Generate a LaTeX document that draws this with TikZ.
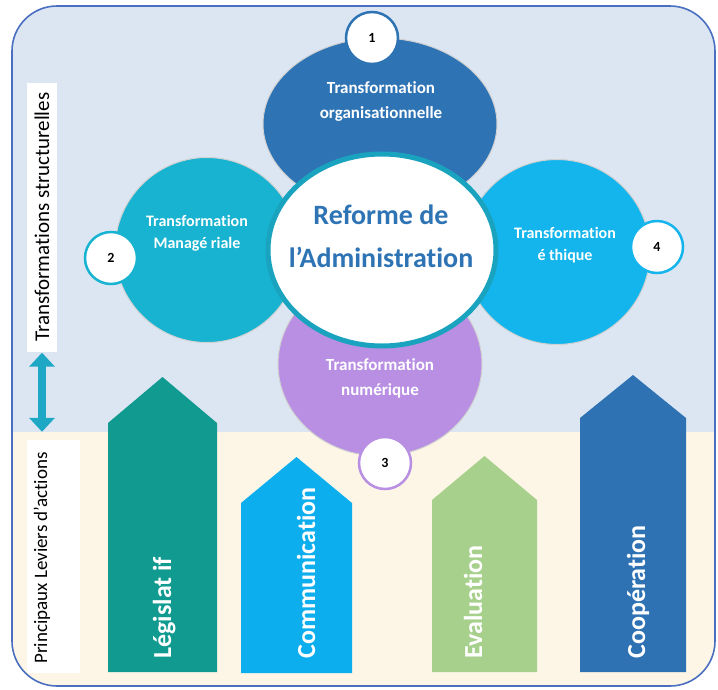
\documentclass[tikz,border=0pt]{standalone}
\usepackage{fontspec}
\setmainfont{Carlito}[Ligatures=NoCommon]
\usetikzlibrary{arrows.meta,shapes.geometric}
\definecolor{bgblue}{HTML}{DCE6F2}
\definecolor{bgcream}{HTML}{FDF6E7}
\definecolor{frameblue}{HTML}{4A6FC0}
\definecolor{orgblue}{HTML}{2E74B5}
\definecolor{mgtteal}{HTML}{17B3D0}
\definecolor{ethsky}{HTML}{14B5EC}
\definecolor{numpurple}{HTML}{B88FE3}
\definecolor{ringteal}{HTML}{1AA3BF}
\definecolor{legteal}{HTML}{109A90}
\definecolor{comsky}{HTML}{0CAEEE}
\definecolor{evalgreen}{HTML}{A8D08D}
\definecolor{coopblue}{HTML}{2E72B4}
\definecolor{arrowteal}{HTML}{1FA8C6}
\tikzset{
  bubble/.style={ellipse, draw=black!18, line width=1pt, inner sep=0pt},
  btext/.style={text=white, align=center, font=\bfseries\fontsize{17}{25}\selectfont},
  badge/.style={circle, fill=white, line width=2.5pt, minimum size=52pt, inner sep=0pt, font=\bfseries\fontsize{14}{14}\selectfont},
  levertext/.style={text=white, rotate=90, anchor=base west, font=\bfseries\fontsize{26}{26}\selectfont},
  sidelbl/.style={rotate=90, inner sep=0pt, font=\fontsize{21}{21}\selectfont}
}

\begin{document}
\begin{tikzpicture}[x=1pt,y=-1pt]
	\useasboundingbox (0,0) rectangle (718,689);
	% two-tone frame
	\begin{scope}
		\clip[rounded corners=45pt] (12,6) rectangle (715,686);
		\fill[bgblue] (12,6) rectangle (715,432);
		\fill[bgcream] (12,432) rectangle (715,686);
	\end{scope}
	\draw[frameblue, line width=1.6pt, rounded corners=45pt] (12,6) rectangle (715,686);

	% side labels
	\node[sidelbl, fill=white, minimum width=269pt, minimum height=30pt] (structLbl) at (42,217) {Transformations structurelles};
	\node[fill=white, minimum width=53pt, minimum height=233pt, inner sep=0pt] (leverBox) at (53.5,556.5) {};
	\node[sidelbl, font=\fontsize{19}{19}\selectfont] (leverLbl) at (42,558) {Principaux Leviers d’actions};
	\draw[arrowteal, line width=8pt, {Triangle[width=25pt,length=14pt]}-{Triangle[width=25pt,length=14pt]}, shorten <=1pt, shorten >=8pt] (structLbl.west) -- (leverBox.north -| structLbl.west);

	% levers
	\fill[legteal] (108,672) -- (108,423) -- (162.5,377) -- (217,423) -- (217,672) -- cycle;
	\fill[comsky] (241,673) -- (241,503) -- (296.5,457) -- (352,503) -- (352,673) -- cycle;
	\fill[evalgreen] (432,672) -- (432,500) -- (484.5,456) -- (537,500) -- (537,672) -- cycle;
	\fill[coopblue] (580,672) -- (580,418) -- (633,375) -- (686,418) -- (686,672) -- cycle;
	\node[levertext] (legT) at (171,662) {Législat if};
	\node[levertext] (comT) at (315,662) {Communication};
	\node[levertext] (evalT) at (482,662) {Evaluation};
	\node[levertext] (coopT) at (645,662) {Coopération};

	% transformations
	\node[bubble, fill=mgtteal, minimum width=184pt, minimum height=185pt] (mgtC) at (207,250) {};
	\node[bubble, fill=ethsky, minimum width=186pt, minimum height=185pt] (ethC) at (557,252) {};
	\node[bubble, fill=numpurple, minimum width=204pt, minimum height=184pt] (numC) at (380,364) {};
	\node[bubble, fill=orgblue, minimum width=234pt, minimum height=172pt] (orgC) at (380,124) {};
	\node[ellipse, fill=white, draw=ringteal, line width=5pt, minimum width=228pt, minimum height=192pt] (core) at (382,250) {};
	\node[text=orgblue, align=center, font=\bfseries\fontsize{28}{43}\selectfont] (coreT) at (381,236) {Reforme de\\l’Administration};

	\node[btext] (orgT) at (381,101) {Transformation\\organisationnelle};
	\node[btext, font=\bfseries\fontsize{16}{22}\selectfont] (mgtT) at (197,233) {Transformation\\Managé riale};
	\node[btext, font=\bfseries\fontsize{16}{22}\selectfont] (ethT) at (565,245) {Transformation\\é thique};
	\node[btext] (numT) at (380,378) {Transformation\\numérique};

	% numbers
	\node[badge, draw=orgblue] (b1) at (372,38) {1};
	\node[badge, draw=mgtteal] (b2) at (111,258) {2};
	\node[badge, draw=numpurple] (b3) at (385,463) {3};
	\node[badge, draw=ethsky] (b4) at (657,247) {4};
\end{tikzpicture}
\end{document}
